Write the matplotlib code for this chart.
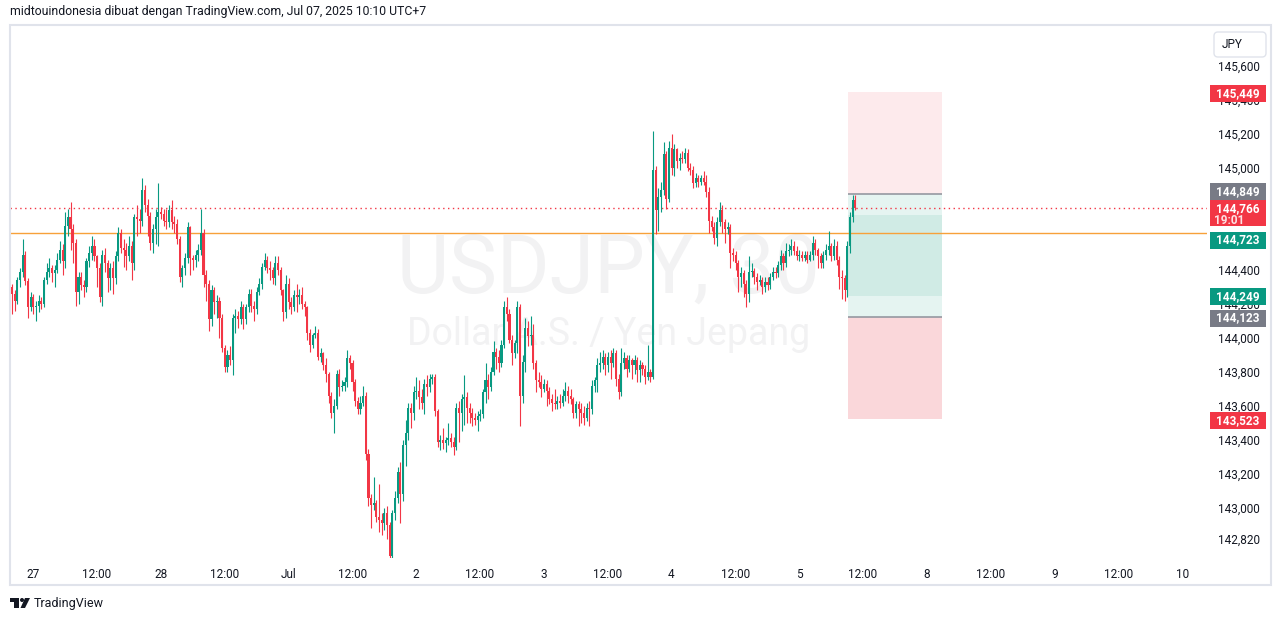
import matplotlib.pyplot as plt
import matplotlib.patches as patches
from matplotlib.transforms import IdentityTransform
import numpy as np

W, H = 1281, 621

# ---- data: USDJPY 30 menit ----
first_open = 144.30
closes = [
    # 27 - 28 Jun
    144.26, 144.22, 144.34, 144.39, 144.49, 144.335, 144.18, 144.24, 144.18, 144.19,
    144.22, 144.20, 144.34, 144.39, 144.41, 144.38, 144.40, 144.46, 144.52, 144.45,
    144.66, 144.71, 144.64, 144.56, 144.27, 144.36, 144.31, 144.30, 144.45, 144.50,
    144.54, 144.48, 144.41, 144.24, 144.49, 144.44, 144.35, 144.41, 144.35, 144.48,
    144.62, 144.53, 144.52, 144.48, 144.54, 144.44, 144.71, 144.70, 144.69, 144.87,
    144.78, 144.72, 144.56, 144.64, 144.71, 144.74, 144.73, 144.69, 144.68, 144.75,
    144.68, 144.67, 144.58, 144.36, 144.41, 144.47, 144.65, 144.47, 144.46, 144.49,
    144.52, 144.62, 144.37, 144.32, 144.11, 144.28, 144.21, 144.22, 144.12, 143.94,
    143.83, 143.90, 143.87, 144.12, 144.13, 144.11, 144.18, 144.11, 144.18, 144.26,
    144.19, 144.17, 144.27, 144.32, 144.42, 144.46, 144.41, 144.40, 144.35, 144.44,
    144.40, 144.28, 144.15, 144.32, 144.21, 144.18, 144.25,
    # Jul - 3
    144.24, 144.25, 144.20, 144.18, 144.03, 143.96, 144.02, 144.03, 143.89, 143.91,
    143.84, 143.79, 143.66, 143.56, 143.60, 143.79, 143.71, 143.72, 143.74, 143.88,
    143.85, 143.74, 143.63, 143.58, 143.62, 143.66, 143.32, 143.06, 143.02, 143.03,
    142.95, 142.93, 142.91, 142.97, 142.90, 142.72, 142.97, 143.06, 143.21, 143.08,
    143.37, 143.44, 143.59, 143.56, 143.68, 143.69, 143.65, 143.62, 143.73, 143.71,
    143.76, 143.77, 143.57, 143.39, 143.40, 143.38, 143.40, 143.41, 143.39, 143.36,
    143.59, 143.56, 143.64, 143.65, 143.59, 143.56, 143.53, 143.52, 143.54, 143.55,
    143.68, 143.75, 143.71, 143.80, 143.92, 143.89, 143.85, 143.96, 144.18, 144.14,
    143.99, 143.91, 143.97, 144.18, 143.66, 143.86, 144.06, 144.01, 144.02, 143.85,
    143.75, 143.74, 143.70, 143.73, 143.69, 143.64, 143.62, 143.61, 143.63, 143.62,
    143.66, 143.69, 143.66, 143.64, 143.56, 143.61, 143.58,
    # 3 - 7 Jul
    143.56, 143.53, 143.59, 143.58, 143.72, 143.75, 143.84, 143.85, 143.89, 143.84,
    143.89, 143.85, 143.91, 143.76, 143.68, 143.85, 143.88, 143.82, 143.87, 143.84,
    143.87, 143.81, 143.84, 143.82, 143.77, 143.80, 143.77, 144.99, 144.75, 144.83,
    144.87, 145.08, 144.82, 145.12, 145.00, 145.11, 145.04, 145.06, 145.055, 145.09,
    145.00, 144.99, 144.91, 144.94, 144.92, 144.94, 144.92, 144.86, 144.69, 144.65,
    144.59, 144.68, 144.75, 144.68, 144.64, 144.65, 144.50, 144.49, 144.44, 144.36,
    144.38, 144.32, 144.26, 144.39, 144.395, 144.36, 144.33, 144.34, 144.30, 144.33,
    144.31, 144.36, 144.39, 144.38, 144.43, 144.48, 144.44, 144.51, 144.515, 144.54,
    144.51, 144.48, 144.49, 144.47, 144.49, 144.46, 144.49, 144.56, 144.52, 144.48,
    144.44, 144.49, 144.52, 144.54, 144.48, 144.54, 144.46, 144.36, 144.35, 144.28,
    144.54, 144.71, 144.81, 144.766,
]
highs = [
    144.32, 144.28, 144.36, 144.41, 144.58, 144.51, 144.35, 144.27, 144.26, 144.22,
    144.25, 144.24, 144.36, 144.44, 144.47, 144.43, 144.43, 144.50, 144.57, 144.55,
    144.74, 144.76, 144.80, 144.67, 144.58, 144.39, 144.39, 144.34, 144.47, 144.54,
    144.60, 144.58, 144.49, 144.44, 144.52, 144.53, 144.46, 144.44, 144.45, 144.51,
    144.65, 144.64, 144.58, 144.56, 144.60, 144.57, 144.73, 144.78, 144.76, 144.94,
    144.90, 144.82, 144.74, 144.67, 144.76, 144.91, 144.77, 144.76, 144.76, 144.78,
    144.81, 144.72, 144.70, 144.60, 144.43, 144.50, 144.68, 144.66, 144.49, 144.52,
    144.55, 144.76, 144.64, 144.40, 144.34, 144.31, 144.30, 144.25, 144.24, 144.14,
    143.96, 143.93, 143.95, 144.14, 144.17, 144.16, 144.22, 144.20, 144.20, 144.29,
    144.29, 144.22, 144.30, 144.35, 144.44, 144.50, 144.48, 144.45, 144.42, 144.48,
    144.48, 144.42, 144.29, 144.37, 144.35, 144.24, 144.28,
    144.32, 144.29, 144.30, 144.22, 144.19, 144.05, 144.03, 144.07, 144.05, 143.94,
    143.92, 143.88, 143.80, 143.68, 143.64, 143.81, 143.82, 143.75, 143.77, 143.93,
    143.90, 143.87, 143.76, 143.65, 143.66, 143.72, 143.68, 143.35, 143.08, 143.18,
    143.05, 143.14, 142.97, 143.00, 143.01, 142.92, 142.99, 143.10, 143.24, 143.27,
    143.40, 143.52, 143.62, 143.62, 143.72, 143.77, 143.75, 143.70, 143.76, 143.78,
    143.79, 143.79, 143.79, 143.58, 143.43, 143.47, 143.42, 143.50, 143.44, 143.42,
    143.62, 143.63, 143.67, 143.78, 143.68, 143.62, 143.59, 143.56, 143.57, 143.58,
    143.70, 143.85, 143.79, 143.83, 143.98, 143.94, 143.93, 143.99, 144.22, 144.24,
    144.17, 144.02, 143.99, 144.22, 144.20, 143.90, 144.12, 144.10, 144.13, 144.08,
    143.87, 143.80, 143.78, 143.76, 143.75, 143.71, 143.67, 143.70, 143.66, 143.67,
    143.70, 143.74, 143.72, 143.70, 143.65, 143.63, 143.63,
    143.62, 143.60, 143.62, 143.63, 143.75, 143.77, 143.88, 143.92, 143.93, 143.91,
    143.92, 143.93, 143.94, 143.93, 143.79, 143.94, 143.92, 143.90, 143.90, 143.88,
    143.90, 143.89, 143.87, 143.86, 143.84, 143.96, 143.82, 145.22, 145.01, 144.88,
    144.92, 145.15, 145.10, 145.16, 145.20, 145.14, 145.12, 145.09, 145.10, 145.12,
    145.11, 145.03, 145.01, 144.97, 144.96, 144.96, 144.98, 144.96, 144.89, 144.72,
    144.68, 144.71, 144.80, 144.78, 144.70, 144.68, 144.67, 144.53, 144.51, 144.46,
    144.42, 144.40, 144.34, 144.48, 144.44, 144.41, 144.38, 144.37, 144.36, 144.36,
    144.36, 144.38, 144.42, 144.42, 144.45, 144.52, 144.50, 144.56, 144.55, 144.58,
    144.57, 144.54, 144.52, 144.51, 144.51, 144.51, 144.51, 144.60, 144.58, 144.53,
    144.50, 144.51, 144.55, 144.63, 144.56, 144.58, 144.57, 144.48, 144.40, 144.37,
    144.57, 144.74, 144.84, 144.84,
]
lows = [
    144.14, 144.16, 144.20, 144.30, 144.36, 144.31, 144.12, 144.16, 144.14, 144.10,
    144.15, 144.17, 144.18, 144.32, 144.36, 144.33, 144.30, 144.38, 144.44, 144.37,
    144.41, 144.60, 144.52, 144.44, 144.19, 144.20, 144.28, 144.24, 144.27, 144.42,
    144.46, 144.45, 144.30, 144.21, 144.19, 144.39, 144.27, 144.28, 144.26, 144.32,
    144.45, 144.50, 144.42, 144.40, 144.45, 144.34, 144.40, 144.60, 144.62, 144.66,
    144.74, 144.60, 144.52, 144.50, 144.55, 144.54, 144.70, 144.66, 144.64, 144.65,
    144.64, 144.62, 144.55, 144.33, 144.30, 144.37, 144.44, 144.37, 144.40, 144.42,
    144.45, 144.49, 144.30, 144.22, 144.04, 144.07, 144.14, 144.12, 144.00, 143.92,
    143.80, 143.80, 143.84, 143.78, 144.03, 144.06, 144.08, 144.05, 144.08, 144.15,
    144.15, 144.10, 144.14, 144.25, 144.29, 144.40, 144.38, 144.34, 144.32, 144.31,
    144.37, 144.25, 144.10, 144.12, 144.17, 144.14, 144.16,
    144.15, 144.20, 144.17, 144.13, 143.99, 143.92, 143.94, 144.00, 143.87, 143.86,
    143.81, 143.74, 143.62, 143.53, 143.44, 143.58, 143.66, 143.69, 143.69, 143.71,
    143.82, 143.69, 143.60, 143.55, 143.55, 143.60, 143.28, 143.01, 142.88, 142.99,
    142.92, 142.86, 142.84, 142.87, 142.82, 142.70, 142.70, 142.93, 143.03, 142.91,
    143.04, 143.25, 143.40, 143.47, 143.52, 143.64, 143.58, 143.58, 143.55, 143.66,
    143.68, 143.73, 143.54, 143.36, 143.34, 143.35, 143.33, 143.37, 143.36, 143.31,
    143.34, 143.39, 143.45, 143.49, 143.50, 143.50, 143.48, 143.49, 143.45, 143.51,
    143.53, 143.62, 143.64, 143.69, 143.78, 143.82, 143.80, 143.83, 143.94, 144.10,
    143.97, 143.84, 143.88, 143.91, 143.48, 143.62, 143.80, 143.95, 143.96, 143.82,
    143.68, 143.71, 143.65, 143.68, 143.60, 143.61, 143.57, 143.58, 143.58, 143.59,
    143.60, 143.63, 143.62, 143.61, 143.53, 143.53, 143.48,
    143.50, 143.49, 143.51, 143.48, 143.55, 143.68, 143.68, 143.80, 143.82, 143.78,
    143.80, 143.76, 143.83, 143.72, 143.64, 143.66, 143.82, 143.77, 143.80, 143.76,
    143.79, 143.74, 143.74, 143.78, 143.73, 143.75, 143.74, 143.76, 144.61, 144.63,
    144.74, 144.84, 144.76, 144.80, 144.96, 144.95, 145.00, 144.99, 145.03, 145.03,
    144.98, 144.96, 144.88, 144.89, 144.89, 144.90, 144.90, 144.83, 144.62, 144.63,
    144.55, 144.54, 144.66, 144.62, 144.56, 144.61, 144.41, 144.45, 144.40, 144.27,
    144.30, 144.24, 144.18, 144.21, 144.36, 144.32, 144.28, 144.31, 144.26, 144.27,
    144.28, 144.29, 144.34, 144.35, 144.36, 144.40, 144.40, 144.42, 144.48, 144.49,
    144.49, 144.46, 144.45, 144.45, 144.45, 144.44, 144.45, 144.46, 144.49, 144.41,
    144.41, 144.41, 144.46, 144.49, 144.45, 144.46, 144.43, 144.29, 144.23, 144.22,
    144.24, 144.50, 144.68, 144.75,
]

time_labels = ["27", "12:00", "28", "12:00", "Jul", "12:00", "2", "12:00", "3", "12:00",
               "4", "12:00", "5", "12:00", "8", "12:00", "9", "12:00", "10"]
# 144,800 dan 144,600 tertutup label harga, jadi tidak digambar
price_ticks = [145.6, 145.4, 145.2, 145.0, 144.4, 144.2, 144.0,
               143.8, 143.6, 143.4, 143.2, 143.0, 142.82]

# level alat posisi & garis
pos_top = 145.449
pos_entry = 144.849
pos_inner_top = 144.723
pos_inner_bot = 144.249
pos_stop = 144.123
pos_bottom = 143.523
last_price = 144.766
orange_level = 144.618
countdown = "19:01"

UP = "#089981"
DOWN = "#f23645"
TXT = "#131722"
plt.rcParams["font.family"] = ["Roboto", "DejaVu Sans"]

assert len(closes) == len(highs) == len(lows)

fig = plt.figure(figsize=(W / 100, H / 100), dpi=100)
ax = fig.add_axes([10 / W, 1 - 558 / H, 1197 / W, 531 / H])
for s in ax.spines.values():
    s.set_visible(False)

n = len(closes)
idx = np.arange(n)
c = np.array(closes)
o = np.array([first_open] + closes[:-1])
up = c >= o
cols = np.where(up, UP, DOWN)

ax.vlines(idx, lows, highs, colors=cols, lw=0.8, zorder=3)
ax.bar(idx, np.maximum(np.abs(c - o), 0.006), bottom=np.minimum(o, c), width=0.78,
       color=cols, linewidth=0, zorder=3)

ax.set_xlim(-0.75, 449.2)
ax.set_ylim(142.706, 145.829)

# watermark
ax.text(0.5, 0.542, "USDJPY, 30", transform=ax.transAxes, ha="center", va="center",
        fontsize=58, color="#f2f2f3", zorder=0)
ax.text(0.5, 0.42, "Dollar A.S. / Yen Jepang", transform=ax.transAxes, ha="center",
        va="center", fontsize=27, color="#f2f2f3", zorder=0)

# position tool
bx0, bx1 = 314.3, 349.6
def zone(lo, hi, color):
    ax.add_patch(patches.Rectangle((bx0, lo), bx1 - bx0, hi - lo, fc=color, ec="none", zorder=1))
zone(pos_entry, pos_top, "#fdeaec")
zone(pos_stop, pos_entry, "#e5f4f1")
zone(pos_inner_bot, pos_inner_top, "#d0ebe5")
zone(pos_bottom, pos_stop, "#fad7da")
ax.hlines([pos_entry, pos_stop], bx0, bx1, colors="#9598a1", lw=1.2, zorder=2)

ax.axhline(orange_level, color="#f7a13a", lw=1.0, zorder=2)
ax.axhline(last_price, color=DOWN, lw=1.0, ls=(0, (1, 2.5)), zorder=2)

# ticks
ax.set_xticks([7.9 + 24 * k for k in range(len(time_labels))])
ax.set_xticklabels(time_labels)
ax.tick_params(axis="x", length=0, pad=7, labelsize=8.5, labelcolor=TXT)
ax.yaxis.tick_right()
ax.set_yticks(price_ticks)
ax.set_yticklabels([f"{p:,.3f}".replace(".", ",") for p in price_ticks])
ax.tick_params(axis="y", length=0, pad=8, labelsize=8.5, labelcolor=TXT)

# ---- pixel-space decorations ----
def ypix(p):
    return H - ax.transData.transform((0, p))[1]

def pbox(x0, y0, x1, y1, **kw):
    fig.add_artist(patches.Rectangle((x0, H - y1), x1 - x0, y1 - y0,
                                     transform=IdentityTransform(), **kw))

def ptext(x, y, s, **kw):
    fig.text(x / W, 1 - y / H, s, **kw)

pbox(10, 25, 1271, 585, fc="none", ec="#e0e3eb", lw=1.5)

# price labels (y in pixels; stacked labels shifted like the reference)
labels = [
    (pos_top, DOWN, ypix(pos_top) + 1.5),
    (pos_entry, "#787b86", 191.5),
    (pos_inner_top, UP, 240),
    (pos_inner_bot, UP, ypix(pos_inner_bot) + 1),
    (pos_stop, "#787b86", ypix(pos_stop) + 1),
    (pos_bottom, DOWN, ypix(pos_bottom) + 1.5),
]
for val, col, yc in labels:
    pbox(1210, yc - 8.5, 1266, yc + 8.5, fc=col, ec="none")
    ptext(1238, yc, f"{val:,.3f}".replace(".", ","), ha="center", va="center",
          color="white", fontsize=8.5, fontweight="bold")
pbox(1210, 200, 1266, 226, fc=DOWN, ec="none")
ptext(1238, 208.5, f"{last_price:,.3f}".replace(".", ","), ha="center", va="center",
      color="white", fontsize=8.5, fontweight="bold")
ptext(1229, 220, countdown, ha="center", va="center", color="#fde0e3",
      fontsize=8.5, fontweight="bold")

# currency box
fig.add_artist(patches.FancyBboxPatch((1214, H - 57), 52, 25, boxstyle="round,pad=0,rounding_size=4",
                                      fc="white", ec="#e0e3eb", lw=1, transform=IdentityTransform()))
ptext(1232, 44, "JPY", ha="center", va="center", color=TXT, fontsize=8.5)

# header / footer
ptext(10, 12, "midtouindonesia dibuat dengan TradingView.com, Jul 07, 2025 10:10 UTC+7",
      ha="left", va="center", color=TXT, fontsize=8.8)
pbox(10, 598, 19, 602, fc=TXT, ec="none")
pbox(14, 598, 19, 608, fc=TXT, ec="none")
fig.add_artist(patches.Circle((22, H - 600), 2, fc=TXT, ec="none", transform=IdentityTransform()))
fig.add_artist(patches.Polygon([(25, H - 598), (30, H - 598), (25, H - 608), (20.5, H - 608)],
                               fc=TXT, ec="none", transform=IdentityTransform()))
ptext(34, 603.5, "TradingView", ha="left", va="center", color=TXT, fontsize=9)

fig.savefig("out.png", dpi=100, facecolor="white")
